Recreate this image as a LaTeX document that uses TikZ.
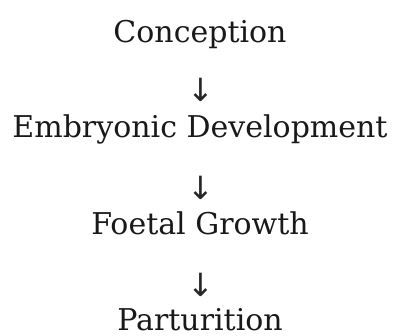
\documentclass[tikz,border=0pt]{standalone}
\usepackage{fontspec}
\setmainfont{DejaVu Serif}
\newfontfamily\arrowfont{DejaVu Sans}
\begin{document}
\begin{tikzpicture}[x=1pt,y=1pt,
  stage/.style={inner sep=0pt, anchor=base, font=\fontsize{30}{36}\selectfont, text=black!90},
  arrowglyph/.style={inner sep=0pt, anchor=center, font=\arrowfont\fontsize{32}{38}\selectfont, text=black!85}]
\useasboundingbox (0,0) rectangle (394,336);
\node[stage] (conc) at (200,293) {Conception};
\node[arrowglyph] (a1) at (201,246) {↓};
\node[stage] (emb) at (200,198) {Embryonic Development};
\node[arrowglyph] (a2) at (201,148.5) {↓};
\node[stage] (foet) at (200,101) {Foetal Growth};
\node[arrowglyph] (a3) at (201,51) {↓};
\node[stage] (part) at (200,5) {Parturition};
\end{tikzpicture}
\end{document}
